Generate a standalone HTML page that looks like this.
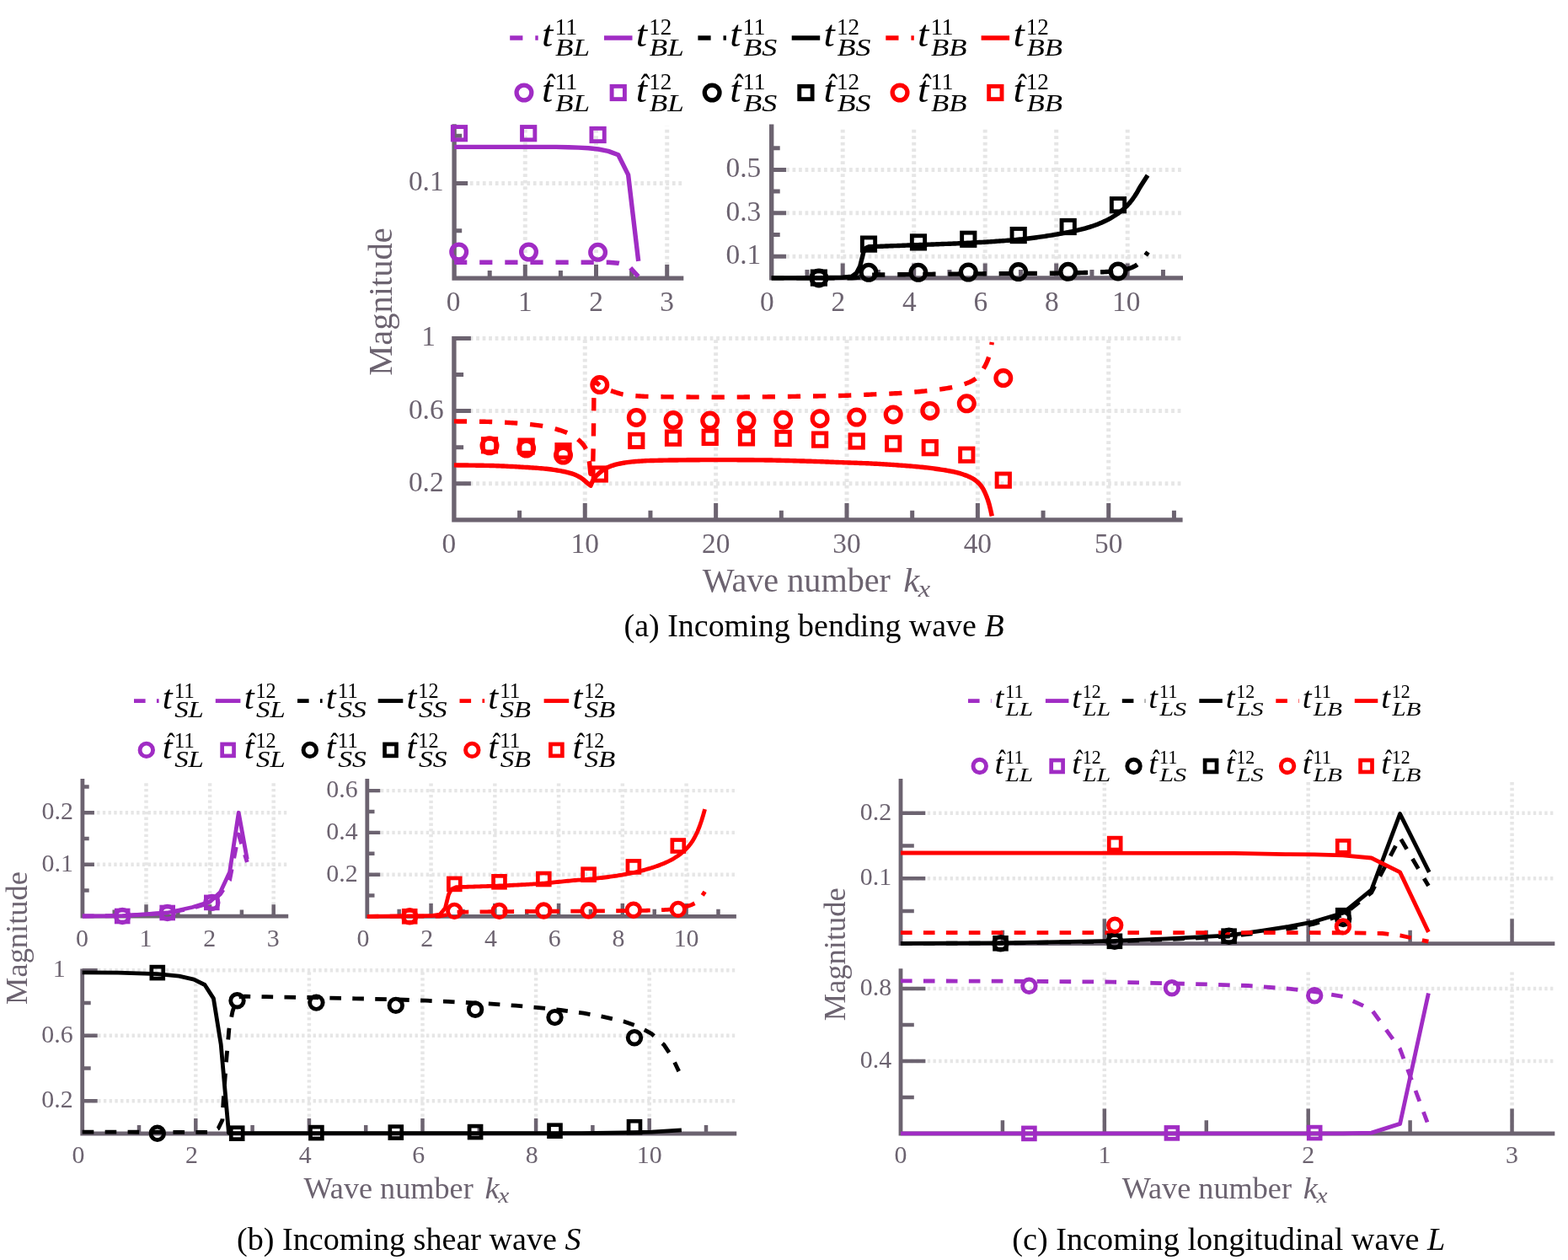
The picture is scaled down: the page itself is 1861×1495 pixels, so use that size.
<!DOCTYPE html>
<html lang="en">
<head>
<meta charset="utf-8">
<title>Transmission coefficient magnitudes</title>
<style>
html,body{margin:0;padding:0;background:#ffffff;}
body{width:1861px;height:1495px;overflow:hidden;}
svg{display:block;}
svg text{font-family:"Liberation Serif",serif;}
</style>
</head>
<body>
<svg width="1861" height="1495" viewBox="0 0 1861 1495">
<rect x="0" y="0" width="1861" height="1495" fill="#ffffff"/>
<path d="M623.3 330.1V149.8M707.5 330.1V149.8M791.7 330.1V149.8M809.1 217.5H539.1" stroke="#e6e6e6" stroke-width="5" stroke-dasharray="3.75 3.75" fill="none"/>
<path d="M539.1 147.3V330.1H811.3" stroke="#6c6370" stroke-width="5.35" fill="none" stroke-linejoin="miter"/>
<path d="M623.3 330.1v-16.1M707.5 330.1v-16.1M791.7 330.1v-16.1M581.2 330.1v-9.1M665.4 330.1v-9.1M749.6 330.1v-9.1M539.1 217.5h16.1M539.1 273.8h9.1M539.1 161.2h9.1" stroke="#6c6370" stroke-width="5" fill="none" stroke-linejoin="miter"/>
<path d="M1000.2 329.9V150.1M1084.7 329.9V150.1M1169.2 329.9V150.1M1253.7 329.9V150.1M1338.2 329.9V150.1M1401.8 304.2H915.7M1401.8 252.8H915.7M1401.8 201.4H915.7" stroke="#e6e6e6" stroke-width="5" stroke-dasharray="3.75 3.75" fill="none"/>
<path d="M915.7 147.6V329.9H1404" stroke="#6c6370" stroke-width="5.35" fill="none" stroke-linejoin="miter"/>
<path d="M1000.2 329.9v-17.3M1084.7 329.9v-17.3M1169.2 329.9v-17.3M1253.7 329.9v-17.3M1338.2 329.9v-17.3M957.95 329.9v-10M1042.45 329.9v-10M1126.95 329.9v-10M1211.45 329.9v-10M1295.95 329.9v-10M1380.45 329.9v-10M915.7 304.2h17.3M915.7 252.8h17.3M915.7 201.4h17.3M915.7 278.5h10M915.7 227.1h10M915.7 175.7h10" stroke="#6c6370" stroke-width="5" fill="none" stroke-linejoin="miter"/>
<path d="M694.27 616.9V401.4M849.64 616.9V401.4M1005.01 616.9V401.4M1160.38 616.9V401.4M1315.75 616.9V401.4M1401.4 573.8H538.9M1401.4 487.6H538.9M1401.4 401.4H538.9" stroke="#e6e6e6" stroke-width="5" stroke-dasharray="3.75 3.75" fill="none"/>
<path d="M538.9 398.9V616.9H1403.6" stroke="#6c6370" stroke-width="5.35" fill="none" stroke-linejoin="miter"/>
<path d="M694.27 616.9v-20M849.64 616.9v-20M1005.01 616.9v-20M1160.38 616.9v-20M1315.75 616.9v-20M616.59 616.9v-11.2M771.95 616.9v-11.2M927.33 616.9v-11.2M1082.7 616.9v-11.2M1238.07 616.9v-11.2M1393.43 616.9v-11.2M538.9 573.8h20M538.9 487.6h20M538.9 401.4h20M538.9 530.7h11.2M538.9 444.5h11.2" stroke="#6c6370" stroke-width="5" fill="none" stroke-linejoin="miter"/>
<path d="M173.5 1087.2V926.24M249.1 1087.2V926.24M324.7 1087.2V926.24M340.23 1025.7H97.9M340.23 964.2H97.9" stroke="#e6e6e6" stroke-width="4.47" stroke-dasharray="3.36 3.36" fill="none"/>
<path d="M97.9 924V1087.2H342.2" stroke="#6c6370" stroke-width="4.79" fill="none" stroke-linejoin="miter"/>
<path d="M173.5 1087.2v-14M249.1 1087.2v-14M324.7 1087.2v-14M135.7 1087.2v-7.8M211.3 1087.2v-7.8M286.9 1087.2v-7.8M97.9 1025.7h14M97.9 964.2h14M97.9 1056.45h7.8M97.9 994.95h7.8M97.9 933.45h7.8" stroke="#6c6370" stroke-width="4.47" fill="none" stroke-linejoin="miter"/>
<path d="M511.56 1087.4V926.24M587.32 1087.4V926.24M663.08 1087.4V926.24M738.84 1087.4V926.24M814.6 1087.4V926.24M871.93 1037.64H435.8M871.93 987.88H435.8M871.93 938.12H435.8" stroke="#e6e6e6" stroke-width="4.47" stroke-dasharray="3.36 3.36" fill="none"/>
<path d="M435.8 924V1087.4H873.9" stroke="#6c6370" stroke-width="4.79" fill="none" stroke-linejoin="miter"/>
<path d="M511.56 1087.4v-15.5M587.32 1087.4v-15.5M663.08 1087.4v-15.5M738.84 1087.4v-15.5M814.6 1087.4v-15.5M473.68 1087.4v-8.7M549.44 1087.4v-8.7M625.2 1087.4v-8.7M700.96 1087.4v-8.7M776.72 1087.4v-8.7M852.48 1087.4v-8.7M435.8 1037.64h15.5M435.8 987.88h15.5M435.8 938.12h15.5M435.8 1062.52h8.7M435.8 1012.76h8.7M435.8 963h8.7" stroke="#6c6370" stroke-width="4.47" fill="none" stroke-linejoin="miter"/>
<path d="M232.3 1345V1151.64M366.9 1345V1151.64M501.5 1345V1151.64M636.1 1345V1151.64M770.7 1345V1151.64M872.23 1306.26H97.7M872.23 1228.78H97.7M872.23 1151.3H97.7" stroke="#e6e6e6" stroke-width="4.47" stroke-dasharray="3.36 3.36" fill="none"/>
<path d="M97.7 1149.4V1345H874.2" stroke="#6c6370" stroke-width="4.79" fill="none" stroke-linejoin="miter"/>
<path d="M232.3 1345v-18M366.9 1345v-18M501.5 1345v-18M636.1 1345v-18M770.7 1345v-18M165 1345v-10M299.6 1345v-10M434.2 1345v-10M568.8 1345v-10M703.4 1345v-10M838 1345v-10M97.7 1306.26h18M97.7 1228.78h18M97.7 1151.3h18M97.7 1267.52h10M97.7 1190.04h10" stroke="#6c6370" stroke-width="4.47" fill="none" stroke-linejoin="miter"/>
<path d="M1310.85 1119.6V926.34M1552.7 1119.6V926.34M1794.55 1119.6V926.34M1843.33 1042.2H1069M1843.33 964.8H1069" stroke="#e6e6e6" stroke-width="4.47" stroke-dasharray="3.36 3.36" fill="none"/>
<path d="M1069 924.1V1119.6H1845.3" stroke="#6c6370" stroke-width="4.79" fill="none" stroke-linejoin="miter"/>
<path d="M1310.85 1119.6v-29.3M1552.7 1119.6v-29.3M1794.55 1119.6v-29.3M1189.92 1119.6v-15.8M1431.78 1119.6v-15.8M1673.62 1119.6v-15.8M1069 1042.2h29.3M1069 964.8h29.3M1069 1080.9h15.8M1069 1003.5h15.8" stroke="#6c6370" stroke-width="4.47" fill="none" stroke-linejoin="miter"/>
<path d="M1310.85 1345V1151.54M1552.7 1345V1151.54M1794.55 1345V1151.54M1843.33 1259H1069M1843.33 1173H1069" stroke="#e6e6e6" stroke-width="4.47" stroke-dasharray="3.36 3.36" fill="none"/>
<path d="M1069 1149.3V1345H1845.3" stroke="#6c6370" stroke-width="4.79" fill="none" stroke-linejoin="miter"/>
<path d="M1310.85 1345v-29.4M1552.7 1345v-29.4M1794.55 1345v-29.4M1189.92 1345v-15.8M1431.78 1345v-15.8M1673.62 1345v-15.8M1069 1259h29.4M1069 1173h29.4M1069 1302h15.8M1069 1216h15.8" stroke="#6c6370" stroke-width="4.47" fill="none" stroke-linejoin="miter"/>
<path d="M539.1 311.2L710.2 311.2L722 311.3L733.8 312.2L745.6 315L757.6 328" stroke="#a02cc4" stroke-width="5.4" fill="none" stroke-linejoin="round" stroke-dasharray="15.2 14.9"/>
<path d="M539.1 174.4L660 174.4L674.8 174.7L686.6 175.1L698.4 175.8L710.2 177L722 179.4L733.8 183.8L745.6 207.4L757.7 309.9" stroke="#a02cc4" stroke-width="5.4" fill="none" stroke-linejoin="round"/>
<circle cx="544.7" cy="299" r="8.85" stroke="#a02cc4" stroke-width="5.3" fill="none"/>
<circle cx="627.5" cy="299" r="8.85" stroke="#a02cc4" stroke-width="5.3" fill="none"/>
<circle cx="709.6" cy="299.3" r="8.85" stroke="#a02cc4" stroke-width="5.3" fill="none"/>
<rect x="537.35" y="150.55" width="15.3" height="15.3" stroke="#a02cc4" stroke-width="4.9" fill="none"/>
<rect x="619.55" y="150.55" width="15.3" height="15.3" stroke="#a02cc4" stroke-width="4.9" fill="none"/>
<rect x="701.95" y="152.35" width="15.3" height="15.3" stroke="#a02cc4" stroke-width="4.9" fill="none"/>
<path d="M915.7 329.9L1011 329.9L1020 329L1027 326.6L1031 326.2L1033.03 326.18L1035.06 326.15L1037.09 326.13L1039.12 326.1L1041.15 326.08L1043.18 326.06L1045.21 326.03L1047.24 326.01L1049.26 325.98L1051.29 325.96L1053.32 325.93L1055.35 325.91L1057.38 325.88L1059.41 325.86L1061.44 325.83L1063.47 325.81L1065.5 325.78L1067.53 325.76L1069.56 325.74L1071.59 325.71L1073.62 325.69L1075.65 325.66L1077.68 325.64L1079.71 325.62L1081.74 325.59L1083.76 325.57L1085.79 325.55L1087.82 325.53L1089.85 325.5L1091.88 325.48L1093.91 325.46L1095.94 325.44L1097.97 325.42L1100 325.4L1102 325.38L1104 325.36L1106 325.34L1108 325.32L1110 325.3L1112 325.29L1114 325.27L1116 325.25L1118 325.23L1120 325.21L1122 325.2L1124 325.18L1126 325.16L1128 325.14L1130 325.13L1132 325.11L1134 325.09L1136 325.08L1138 325.06L1140 325.04L1142 325.03L1144 325.01L1146 325L1148 324.98L1150 324.96L1152 324.95L1154 324.93L1156 324.92L1158 324.9L1160 324.88L1162 324.87L1164 324.85L1166 324.84L1168 324.82L1170 324.81L1172 324.79L1174 324.77L1176 324.76L1178 324.74L1180 324.73L1182 324.71L1184 324.69L1186 324.68L1188 324.66L1190 324.65L1192 324.63L1194 324.62L1196 324.6L1198 324.58L1200 324.57L1202 324.55L1204 324.53L1206 324.52L1208 324.5L1209.97 324.48L1211.93 324.47L1213.9 324.45L1215.87 324.44L1217.83 324.42L1219.8 324.41L1221.77 324.4L1223.73 324.38L1225.7 324.37L1227.67 324.36L1229.63 324.34L1231.6 324.33L1233.57 324.32L1235.53 324.3L1237.5 324.29L1239.47 324.28L1241.43 324.26L1243.4 324.25L1245.37 324.23L1247.33 324.21L1249.3 324.2L1251.27 324.18L1253.23 324.16L1255.2 324.14L1257.17 324.12L1259.13 324.1L1261.1 324.08L1263.07 324.05L1265.03 324.03L1267 324L1269 323.97L1271 323.94L1273 323.9L1275 323.86L1277 323.82L1279 323.77L1281 323.72L1283 323.67L1285 323.61L1287 323.55L1289 323.49L1291 323.42L1293 323.35L1295 323.28L1297 323.2L1299 323.13L1301 323.04L1303 322.96L1305 322.87L1307 322.79L1309 322.69L1311 322.6L1313 322.5L1315 322.39L1317 322.27L1319 322.13L1321 321.98L1323 321.8L1325 321.61L1327 321.4L1328.83 321.16L1330.67 320.87L1332.5 320.52L1334.33 320.12L1336.17 319.68L1338 319.2L1339.92 318.63L1341.83 317.97L1343.75 317.2L1345.67 316.32L1347.58 315.32L1349.5 314.2L1351.67 312.54L1353.83 310.4L1356 308L1358.17 305.25L1360.33 302.12L1362.5 299" stroke="#000000" stroke-width="5.4" fill="none" stroke-linejoin="round" stroke-dasharray="15.2 14.9" stroke-dashoffset="0.5"/>
<path d="M915.7 329.9L971.9 329.8L1000 329.3L1011 328.2L1016.6 324L1020.8 315.6L1025 298.7L1027.8 294.2L1031.3 292.8L1033.31 292.72L1035.32 292.65L1037.33 292.57L1039.34 292.5L1041.35 292.42L1043.36 292.35L1045.37 292.27L1047.38 292.2L1049.39 292.12L1051.4 292.05L1053.41 291.97L1055.42 291.9L1057.43 291.82L1059.44 291.74L1061.46 291.67L1063.47 291.59L1065.48 291.52L1067.49 291.44L1069.5 291.37L1071.51 291.29L1073.52 291.22L1075.53 291.14L1077.54 291.06L1079.55 290.99L1081.56 290.91L1083.57 290.83L1085.58 290.76L1087.59 290.68L1089.6 290.6L1091.61 290.52L1093.63 290.45L1095.64 290.37L1097.65 290.3L1099.67 290.22L1101.68 290.15L1103.69 290.08L1105.71 290L1107.72 289.93L1109.73 289.86L1111.75 289.78L1113.76 289.71L1115.77 289.64L1117.79 289.56L1119.8 289.49L1121.81 289.41L1123.83 289.34L1125.84 289.26L1127.85 289.18L1129.87 289.1L1131.88 289.02L1133.89 288.93L1135.91 288.85L1137.92 288.76L1139.93 288.68L1141.95 288.58L1143.96 288.49L1145.97 288.4L1147.99 288.3L1150 288.2L1152.02 288.1L1154.05 287.99L1156.07 287.89L1158.1 287.78L1160.12 287.67L1162.14 287.56L1164.17 287.44L1166.19 287.33L1168.22 287.21L1170.24 287.09L1172.27 286.97L1174.29 286.84L1176.31 286.71L1178.34 286.58L1180.36 286.44L1182.39 286.31L1184.41 286.17L1186.43 286.02L1188.46 285.88L1190.48 285.73L1192.51 285.57L1194.53 285.41L1196.56 285.25L1198.58 285.09L1200.6 284.92L1202.63 284.74L1204.65 284.57L1206.68 284.39L1208.7 284.2L1210.67 284.01L1212.63 283.82L1214.6 283.61L1216.57 283.4L1218.53 283.18L1220.5 282.96L1222.47 282.72L1224.43 282.48L1226.4 282.23L1228.37 281.98L1230.33 281.71L1232.3 281.44L1234.27 281.17L1236.23 280.88L1238.2 280.59L1240.17 280.3L1242.13 280L1244.1 279.69L1246.07 279.38L1248.03 279.06L1250 278.73L1251.97 278.41L1253.93 278.07L1255.9 277.73L1257.87 277.39L1259.83 277.04L1261.8 276.69L1263.77 276.33L1265.73 275.97L1267.7 275.6L1269.77 275.2L1271.85 274.79L1273.92 274.36L1275.99 273.91L1278.06 273.44L1280.14 272.95L1282.21 272.44L1284.28 271.91L1286.35 271.36L1288.43 270.79L1290.5 270.2L1292.6 269.57L1294.7 268.91L1296.8 268.21L1298.9 267.47L1301 266.7L1303.1 265.9L1305.2 265.05L1307.3 264.17L1309.4 263.25L1311.5 262.3L1313.44 261.37L1315.38 260.38L1317.31 259.33L1319.25 258.22L1321.19 257.05L1323.12 255.83L1325.06 254.54L1327 253.2L1328.87 251.83L1330.73 250.37L1332.6 248.81L1334.47 247.15L1336.33 245.38L1338.2 243.5L1340.33 241.17L1342.45 238.59L1344.58 235.79L1346.7 232.8L1348.45 230.06L1350.2 227.04L1351.95 223.95L1353.7 221L1355.8 217.69L1357.9 214.47L1360 211.3L1362.1 208.1" stroke="#000000" stroke-width="5.4" fill="none" stroke-linejoin="round"/>
<circle cx="971.9" cy="329.9" r="8.85" stroke="#000000" stroke-width="5.3" fill="none"/>
<circle cx="1031" cy="323.3" r="8.85" stroke="#000000" stroke-width="5.3" fill="none"/>
<circle cx="1089.9" cy="323.3" r="8.85" stroke="#000000" stroke-width="5.3" fill="none"/>
<circle cx="1149.3" cy="323" r="8.85" stroke="#000000" stroke-width="5.3" fill="none"/>
<circle cx="1208.7" cy="322.6" r="8.85" stroke="#000000" stroke-width="5.3" fill="none"/>
<circle cx="1267.7" cy="322.3" r="8.85" stroke="#000000" stroke-width="5.3" fill="none"/>
<circle cx="1327" cy="321.9" r="8.85" stroke="#000000" stroke-width="5.3" fill="none"/>
<rect x="964.25" y="321.95" width="15.3" height="15.3" stroke="#000000" stroke-width="4.9" fill="none"/>
<rect x="1023.35" y="281.95" width="15.3" height="15.3" stroke="#000000" stroke-width="4.9" fill="none"/>
<rect x="1082.35" y="279.75" width="15.3" height="15.3" stroke="#000000" stroke-width="4.9" fill="none"/>
<rect x="1141.65" y="276.15" width="15.3" height="15.3" stroke="#000000" stroke-width="4.9" fill="none"/>
<rect x="1201.05" y="271.45" width="15.3" height="15.3" stroke="#000000" stroke-width="4.9" fill="none"/>
<rect x="1260.05" y="261.35" width="15.3" height="15.3" stroke="#000000" stroke-width="4.9" fill="none"/>
<rect x="1319.35" y="235.55" width="15.3" height="15.3" stroke="#000000" stroke-width="4.9" fill="none"/>
<path d="M538.9 499.9L540.92 499.92L542.95 499.95L544.98 499.97L547 499.99L549.02 500.01L551.05 500.03L553.07 500.05L555.1 500.07L557.12 500.09L559.15 500.11L561.17 500.13L563.2 500.15L565.23 500.18L567.25 500.2L569.27 500.23L571.3 500.26L573.32 500.29L575.35 500.32L577.38 500.36L579.4 500.4L581.45 500.45L583.5 500.5L585.55 500.56L587.6 500.64L589.65 500.72L591.7 500.8L593.75 500.9L595.8 501L597.85 501.11L599.9 501.22L601.95 501.34L604 501.47L606.05 501.6L608.1 501.73L610.15 501.87L612.2 502.01L614.25 502.15L616.3 502.3L618.28 502.45L620.25 502.61L622.23 502.78L624.21 502.97L626.18 503.17L628.16 503.38L630.14 503.6L632.12 503.84L634.09 504.09L636.07 504.35L638.05 504.62L640.02 504.9L642 505.2L644.04 505.53L646.07 505.89L648.11 506.27L650.15 506.69L652.18 507.14L654.22 507.61L656.25 508.12L658.29 508.65L660.33 509.2L662.36 509.79L664.4 510.4L666.41 511.04L668.42 511.74L670.44 512.49L672.45 513.31L674.46 514.2L676.48 515.15L678.49 516.19L680.5 517.3L682.5 518.57L684.5 520.07L686.5 521.76L688.5 523.6L690.33 525.38L692.17 527.41L694 530L695.75 533.48L697.5 538.5L699.6 549L700.9 562.2L703.8 548L704.4 520L704.9 470L705.3 451L707.12 452.79L708.94 454.68L710.76 456.52L712.58 458.15L714.4 459.4L716.31 460.39L718.23 461.24L720.14 462L722.06 462.67L723.97 463.3L725.89 463.9L727.8 464.5L729.67 465.11L731.55 465.73L733.42 466.35L735.3 466.94L737.17 467.48L739.05 467.95L740.92 468.33L742.8 468.6L744.85 468.82L746.91 469.04L748.96 469.23L751.01 469.42L753.07 469.59L755.12 469.74L757.17 469.89L759.23 470.02L761.28 470.14L763.33 470.24L765.39 470.34L767.44 470.42L769.49 470.49L771.55 470.55L773.6 470.6L775.62 470.64L777.65 470.68L779.68 470.71L781.7 470.75L783.73 470.78L785.75 470.81L787.77 470.83L789.8 470.86L791.83 470.88L793.85 470.9L795.88 470.92L797.9 470.94L799.92 470.96L801.95 470.97L803.98 470.99L806 471L808 471.01L810 471.02L812 471.04L814 471.05L816 471.06L818 471.07L820 471.08L822 471.09L824 471.11L826 471.12L828 471.13L830 471.13L832 471.14L834 471.15L836 471.16L838 471.17L840 471.17L842 471.18L844 471.18L846 471.19L848 471.19L850 471.2L852 471.2L854 471.2L856 471.2L858 471.2L860 471.2L862 471.19L864 471.19L866 471.18L868 471.17L870 471.16L872 471.15L874 471.14L876 471.13L878 471.12L880 471.1L882 471.09L884 471.07L886 471.06L888 471.04L890 471.02L892 471.01L894 470.99L896 470.97L898 470.95L900 470.94L902 470.92L904 470.9L906 470.88L908 470.86L910 470.84L912 470.82L914 470.79L916 470.77L918 470.74L920 470.71L922 470.68L924 470.65L926 470.62L928 470.59L930 470.56L932 470.53L934 470.49L936 470.46L938 470.43L940 470.39L942 470.36L944 470.33L946 470.3L948 470.26L950 470.23L952 470.2L954 470.17L956 470.14L958 470.11L960 470.08L962 470.05L964 470.02L966 470L968 469.97L970 469.94L972 469.91L974 469.88L976 469.85L978 469.82L980 469.79L982 469.76L984 469.72L986 469.69L988 469.65L990 469.62L992 469.58L994 469.54L996 469.49L998 469.45L1000 469.4L1002.03 469.35L1004.06 469.29L1006.09 469.22L1008.12 469.15L1010.15 469.07L1012.18 468.99L1014.21 468.91L1016.24 468.82L1018.26 468.73L1020.29 468.64L1022.32 468.55L1024.35 468.45L1026.38 468.36L1028.41 468.27L1030.44 468.18L1032.47 468.09L1034.5 468L1036.48 467.92L1038.46 467.84L1040.44 467.76L1042.42 467.68L1044.4 467.6L1046.38 467.52L1048.36 467.44L1050.34 467.36L1052.32 467.28L1054.3 467.19L1056.28 467.1L1058.26 467.01L1060.24 466.91L1062.22 466.81L1064.2 466.7L1066.23 466.58L1068.27 466.46L1070.3 466.33L1072.33 466.19L1074.37 466.04L1076.4 465.89L1078.43 465.73L1080.47 465.57L1082.5 465.4L1084.53 465.23L1086.57 465.05L1088.6 464.87L1090.63 464.69L1092.67 464.49L1094.7 464.3L1096.68 464.11L1098.66 463.91L1100.64 463.71L1102.62 463.5L1104.6 463.28L1106.58 463.06L1108.56 462.83L1110.54 462.59L1112.52 462.34L1114.5 462.08L1116.48 461.81L1118.46 461.53L1120.44 461.23L1122.42 460.92L1124.4 460.6L1126.4 460.25L1128.4 459.88L1130.4 459.49L1132.4 459.06L1134.4 458.61L1136.4 458.12L1138.4 457.6L1140.4 457.04L1142.4 456.44L1144.4 455.8L1146.47 455.09L1148.54 454.31L1150.61 453.44L1152.69 452.46L1154.76 451.34L1156.83 450.06L1158.9 448.6L1160.9 446.71L1162.9 444.2L1164.9 441.26L1166.9 438.1L1168.77 434.95L1170.63 431.3L1172.5 426.9L1174.1 422.09L1175.7 415.7L1177.3 406" stroke="#ff0000" stroke-width="5.4" fill="none" stroke-linejoin="round" stroke-dasharray="15.2 14.9"/>
<path d="M538.9 551.9L540.92 551.92L542.95 551.95L544.98 551.97L547 551.99L549.02 552.01L551.05 552.03L553.07 552.05L555.1 552.07L557.12 552.09L559.15 552.11L561.17 552.14L563.2 552.16L565.23 552.18L567.25 552.21L569.27 552.23L571.3 552.26L573.32 552.29L575.35 552.33L577.38 552.36L579.4 552.4L581.45 552.44L583.5 552.5L585.55 552.55L587.6 552.62L589.65 552.69L591.7 552.77L593.75 552.86L595.8 552.95L597.85 553.04L599.9 553.14L601.95 553.24L604 553.34L606.05 553.45L608.1 553.56L610.15 553.67L612.2 553.78L614.25 553.89L616.3 554L618.31 554.11L620.31 554.22L622.32 554.34L624.32 554.45L626.33 554.57L628.34 554.7L630.34 554.83L632.35 554.97L634.36 555.11L636.36 555.25L638.37 555.41L640.38 555.57L642.38 555.74L644.39 555.92L646.39 556.1L648.4 556.3L650.48 556.52L652.56 556.77L654.64 557.04L656.72 557.33L658.8 557.64L660.88 557.97L662.96 558.33L665.04 558.7L667.12 559.09L669.2 559.5L671.08 559.89L672.97 560.32L674.85 560.79L676.73 561.3L678.62 561.87L680.5 562.5L682.42 563.23L684.34 564.09L686.26 565.06L688.18 566.13L690.1 567.3L692.23 568.89L694.37 570.76L696.5 572.6L698.75 574.41L701 576.2L703.5 570.4L705.5 567.31L707.5 564.9L709.42 562.94L711.34 561.18L713.26 559.59L715.18 558.17L717.1 556.9L719.23 555.63L721.37 554.53L723.5 553.6L725.64 552.81L727.78 552.09L729.92 551.45L732.06 550.89L734.2 550.4L736.21 549.99L738.23 549.61L740.24 549.25L742.25 548.92L744.26 548.62L746.27 548.35L748.29 548.11L750.3 547.9L752.27 547.72L754.24 547.55L756.21 547.39L758.18 547.23L760.15 547.09L762.12 546.97L764.09 546.85L766.06 546.75L768.03 546.67L770 546.6L772 546.54L774 546.48L776 546.43L778 546.38L780 546.33L782 546.29L784 546.25L786 546.21L788 546.17L790 546.14L792 546.1L794 546.07L796 546.04L798 546.02L800 545.99L802 545.97L804 545.94L806 545.92L808 545.9L809.98 545.88L811.96 545.86L813.94 545.84L815.92 545.82L817.9 545.8L819.89 545.78L821.87 545.76L823.85 545.74L825.83 545.72L827.81 545.7L829.79 545.69L831.77 545.67L833.75 545.66L835.73 545.65L837.71 545.63L839.7 545.62L841.68 545.62L843.66 545.61L845.64 545.6L847.62 545.6L849.6 545.6L851.61 545.6L853.63 545.6L855.64 545.6L857.66 545.61L859.67 545.61L861.69 545.62L863.7 545.63L865.72 545.63L867.73 545.64L869.75 545.65L871.76 545.66L873.78 545.67L875.79 545.68L877.81 545.69L879.82 545.71L881.84 545.72L883.85 545.74L885.87 545.75L887.88 545.76L889.9 545.78L891.91 545.8L893.93 545.81L895.94 545.83L897.96 545.85L899.97 545.86L901.99 545.88L904 545.9L906 545.92L908 545.94L910 545.97L912 546L914 546.03L916 546.07L918 546.11L920 546.15L922 546.19L924 546.24L926 546.29L928 546.34L930 546.39L932 546.44L934 546.49L936 546.55L938 546.6L940 546.66L942 546.72L944 546.77L946 546.83L948 546.89L950 546.94L952 547L954.04 547.06L956.08 547.12L958.12 547.18L960.15 547.25L962.19 547.31L964.23 547.38L966.27 547.45L968.31 547.52L970.35 547.59L972.38 547.67L974.42 547.74L976.46 547.82L978.5 547.89L980.54 547.97L982.58 548.05L984.62 548.13L986.65 548.2L988.69 548.28L990.73 548.36L992.77 548.44L994.81 548.52L996.85 548.6L998.88 548.67L1000.92 548.75L1002.96 548.83L1005 548.9L1006.94 548.97L1008.87 549.04L1010.81 549.1L1012.74 549.17L1014.68 549.24L1016.61 549.3L1018.55 549.37L1020.49 549.44L1022.42 549.51L1024.36 549.58L1026.29 549.66L1028.23 549.73L1030.16 549.81L1032.1 549.9L1034.11 549.99L1036.11 550.09L1038.12 550.19L1040.12 550.3L1042.13 550.41L1044.14 550.52L1046.14 550.63L1048.15 550.75L1050.16 550.87L1052.16 551L1054.17 551.13L1056.17 551.26L1058.18 551.39L1060.19 551.52L1062.19 551.66L1064.2 551.8L1066.21 551.94L1068.21 552.08L1070.22 552.23L1072.22 552.38L1074.23 552.53L1076.24 552.69L1078.24 552.85L1080.25 553.01L1082.26 553.18L1084.26 553.35L1086.27 553.53L1088.28 553.71L1090.28 553.9L1092.29 554.09L1094.29 554.29L1096.3 554.5L1098.31 554.71L1100.32 554.94L1102.33 555.17L1104.33 555.41L1106.34 555.66L1108.35 555.93L1110.36 556.2L1112.37 556.48L1114.38 556.77L1116.38 557.07L1118.39 557.38L1120.4 557.7L1122.4 558.03L1124.4 558.38L1126.4 558.74L1128.4 559.12L1130.4 559.52L1132.4 559.95L1134.4 560.41L1136.4 560.9L1138.28 561.4L1140.17 561.95L1142.05 562.55L1143.93 563.19L1145.82 563.87L1147.7 564.6L1149.7 565.42L1151.7 566.33L1153.7 567.34L1155.7 568.5L1157.83 569.97L1159.97 571.74L1162.1 573.8L1164.5 576.62L1166.9 580.2L1168.9 584.16L1170.9 589L1172.5 593.41L1174.1 598.6L1175.7 605.15L1177.3 612.3" stroke="#ff0000" stroke-width="5.4" fill="none" stroke-linejoin="round"/>
<circle cx="581" cy="528.8" r="8.85" stroke="#ff0000" stroke-width="5.3" fill="none"/>
<circle cx="624.6" cy="532" r="8.85" stroke="#ff0000" stroke-width="5.3" fill="none"/>
<circle cx="668.5" cy="540.1" r="8.85" stroke="#ff0000" stroke-width="5.3" fill="none"/>
<circle cx="711.8" cy="456.6" r="8.85" stroke="#ff0000" stroke-width="5.3" fill="none"/>
<circle cx="755.3" cy="495.4" r="8.85" stroke="#ff0000" stroke-width="5.3" fill="none"/>
<circle cx="799" cy="498.6" r="8.85" stroke="#ff0000" stroke-width="5.3" fill="none"/>
<circle cx="842.7" cy="499.1" r="8.85" stroke="#ff0000" stroke-width="5.3" fill="none"/>
<circle cx="886" cy="499.1" r="8.85" stroke="#ff0000" stroke-width="5.3" fill="none"/>
<circle cx="929.6" cy="498.3" r="8.85" stroke="#ff0000" stroke-width="5.3" fill="none"/>
<circle cx="973.1" cy="496.7" r="8.85" stroke="#ff0000" stroke-width="5.3" fill="none"/>
<circle cx="1016.7" cy="495" r="8.85" stroke="#ff0000" stroke-width="5.3" fill="none"/>
<circle cx="1060.2" cy="491.9" r="8.85" stroke="#ff0000" stroke-width="5.3" fill="none"/>
<circle cx="1103.8" cy="487.4" r="8.85" stroke="#ff0000" stroke-width="5.3" fill="none"/>
<circle cx="1147.3" cy="478.8" r="8.85" stroke="#ff0000" stroke-width="5.3" fill="none"/>
<circle cx="1190.8" cy="448.6" r="8.85" stroke="#ff0000" stroke-width="5.3" fill="none"/>
<rect x="573.35" y="520.65" width="15.3" height="15.3" stroke="#ff0000" stroke-width="4.9" fill="none"/>
<rect x="616.95" y="521.95" width="15.3" height="15.3" stroke="#ff0000" stroke-width="4.9" fill="none"/>
<rect x="660.85" y="527.55" width="15.3" height="15.3" stroke="#ff0000" stroke-width="4.9" fill="none"/>
<rect x="704.15" y="554.85" width="15.3" height="15.3" stroke="#ff0000" stroke-width="4.9" fill="none"/>
<rect x="747.65" y="515.25" width="15.3" height="15.3" stroke="#ff0000" stroke-width="4.9" fill="none"/>
<rect x="791.35" y="512.05" width="15.3" height="15.3" stroke="#ff0000" stroke-width="4.9" fill="none"/>
<rect x="835.05" y="511.25" width="15.3" height="15.3" stroke="#ff0000" stroke-width="4.9" fill="none"/>
<rect x="878.35" y="511.75" width="15.3" height="15.3" stroke="#ff0000" stroke-width="4.9" fill="none"/>
<rect x="921.95" y="512.35" width="15.3" height="15.3" stroke="#ff0000" stroke-width="4.9" fill="none"/>
<rect x="965.45" y="513.95" width="15.3" height="15.3" stroke="#ff0000" stroke-width="4.9" fill="none"/>
<rect x="1009.05" y="515.85" width="15.3" height="15.3" stroke="#ff0000" stroke-width="4.9" fill="none"/>
<rect x="1052.55" y="518.75" width="15.3" height="15.3" stroke="#ff0000" stroke-width="4.9" fill="none"/>
<rect x="1096.15" y="523.55" width="15.3" height="15.3" stroke="#ff0000" stroke-width="4.9" fill="none"/>
<rect x="1139.65" y="532.05" width="15.3" height="15.3" stroke="#ff0000" stroke-width="4.9" fill="none"/>
<rect x="1183.15" y="562.05" width="15.3" height="15.3" stroke="#ff0000" stroke-width="4.9" fill="none"/>
<path d="M97.9 1087L145.2 1086.6L198.5 1083.3L228.1 1077.4L249 1071.6L261.5 1061L272.6 1044.3L283.2 990L293.3 1023" stroke="#a02cc4" stroke-width="4.83" fill="none" stroke-linejoin="round" stroke-dasharray="13.6 13.34"/>
<path d="M97.9 1087L145.2 1086.6L198.5 1083L228.1 1076.5L249 1070.1L261.5 1058.5L272.6 1034.8L283.2 964.3L293.3 1019.5" stroke="#a02cc4" stroke-width="4.83" fill="none" stroke-linejoin="round"/>
<circle cx="145.2" cy="1087" r="7.75" stroke="#a02cc4" stroke-width="4.9" fill="none"/>
<circle cx="198.7" cy="1083" r="7.75" stroke="#a02cc4" stroke-width="4.9" fill="none"/>
<circle cx="251.3" cy="1070.9" r="7.75" stroke="#a02cc4" stroke-width="4.9" fill="none"/>
<rect x="138.25" y="1080.05" width="13.9" height="13.9" stroke="#a02cc4" stroke-width="4.7" fill="none"/>
<rect x="191.75" y="1076.05" width="13.9" height="13.9" stroke="#a02cc4" stroke-width="4.7" fill="none"/>
<rect x="244.35" y="1063.95" width="13.9" height="13.9" stroke="#a02cc4" stroke-width="4.7" fill="none"/>
<path d="M435.8 1087.3L522 1087L530 1085.5L535 1082.6L541 1082.2L542.97 1082.18L544.93 1082.16L546.9 1082.14L548.87 1082.12L550.83 1082.1L552.8 1082.08L554.77 1082.05L556.73 1082.03L558.7 1082.01L560.67 1081.99L562.63 1081.97L564.6 1081.95L566.57 1081.92L568.53 1081.9L570.5 1081.88L572.47 1081.86L574.43 1081.84L576.4 1081.82L578.37 1081.8L580.33 1081.78L582.3 1081.76L584.27 1081.74L586.23 1081.72L588.2 1081.7L590.17 1081.68L592.13 1081.67L594.1 1081.65L596.07 1081.63L598.03 1081.62L600 1081.6L602 1081.58L604 1081.57L606 1081.56L608 1081.54L610 1081.53L612 1081.51L614 1081.5L616 1081.49L618 1081.48L620 1081.46L622 1081.45L624 1081.44L626 1081.43L628 1081.42L630 1081.41L632 1081.39L634 1081.38L636 1081.37L638 1081.36L640 1081.35L642 1081.34L644 1081.33L646 1081.32L648 1081.31L650 1081.3L652 1081.29L654 1081.28L656 1081.27L658 1081.26L660 1081.25L662 1081.24L664 1081.23L666 1081.22L668 1081.2L670 1081.19L672 1081.18L674 1081.17L676 1081.16L678 1081.15L680 1081.14L682 1081.12L684 1081.11L686 1081.1L688 1081.09L690 1081.07L692 1081.06L694 1081.04L696 1081.03L698 1081.02L700 1081L702 1080.98L704 1080.97L706 1080.95L708 1080.94L710 1080.93L712 1080.91L714 1080.9L716 1080.88L718 1080.87L720 1080.85L722 1080.83L724 1080.82L726 1080.8L728 1080.79L730 1080.77L732 1080.75L734 1080.73L736 1080.71L738 1080.69L740 1080.67L742 1080.65L744 1080.62L746 1080.6L748 1080.58L750 1080.55L752 1080.52L754 1080.49L756 1080.46L758 1080.43L760 1080.4L762 1080.37L764 1080.33L766 1080.29L768 1080.25L770 1080.2L772 1080.15L774 1080.09L776 1080.03L778 1079.97L780 1079.9L782 1079.82L784 1079.74L786 1079.65L788 1079.55L790 1079.45L792 1079.33L794 1079.21L796 1079.09L798 1078.95L800 1078.8L802.01 1078.59L804.03 1078.26L806.04 1077.85L808.06 1077.36L810.07 1076.83L812.09 1076.27L814.1 1075.7L816.2 1075.09L818.3 1074.42L820.4 1073.66L822.5 1072.76L824.6 1071.7L826.73 1070.22L828.87 1068.26L831 1066L832.87 1063.6L834.73 1060.8L836.6 1058" stroke="#ff0000" stroke-width="4.83" fill="none" stroke-linejoin="round" stroke-dasharray="13.6 13.34"/>
<path d="M435.8 1087.3L512.3 1086.6L522 1085.2L528.4 1077.5L532.4 1061.5L535.6 1055.1L541.2 1052.7L543.18 1052.64L545.15 1052.57L547.13 1052.51L549.11 1052.45L551.08 1052.39L553.06 1052.32L555.04 1052.26L557.02 1052.2L558.99 1052.14L560.97 1052.08L562.95 1052.02L564.92 1051.96L566.9 1051.9L568.88 1051.84L570.85 1051.78L572.83 1051.71L574.81 1051.65L576.78 1051.58L578.76 1051.52L580.74 1051.45L582.72 1051.38L584.69 1051.31L586.67 1051.23L588.65 1051.16L590.62 1051.08L592.6 1051L594.63 1050.92L596.67 1050.83L598.7 1050.74L600.74 1050.65L602.77 1050.56L604.81 1050.47L606.84 1050.38L608.88 1050.28L610.91 1050.18L612.95 1050.08L614.98 1049.98L617.02 1049.87L619.05 1049.76L621.08 1049.65L623.12 1049.54L625.15 1049.43L627.19 1049.31L629.22 1049.19L631.26 1049.06L633.29 1048.93L635.33 1048.8L637.36 1048.67L639.4 1048.53L641.43 1048.39L643.47 1048.25L645.5 1048.1L647.55 1047.94L649.59 1047.76L651.64 1047.57L653.68 1047.37L655.73 1047.15L657.78 1046.93L659.82 1046.7L661.87 1046.48L663.92 1046.25L665.96 1046.03L668.01 1045.81L670.05 1045.6L672.1 1045.4L674.11 1045.22L676.11 1045.04L678.12 1044.86L680.12 1044.7L682.13 1044.53L684.14 1044.37L686.14 1044.2L688.15 1044.04L690.16 1043.88L692.16 1043.71L694.17 1043.54L696.18 1043.37L698.18 1043.19L700.19 1043L702.19 1042.8L704.2 1042.6L706.21 1042.39L708.21 1042.17L710.22 1041.95L712.23 1041.72L714.23 1041.49L716.24 1041.25L718.24 1041L720.25 1040.74L722.26 1040.48L724.26 1040.21L726.27 1039.93L728.27 1039.64L730.28 1039.35L732.29 1039.04L734.29 1038.73L736.3 1038.4L738.31 1038.06L740.31 1037.71L742.32 1037.34L744.32 1036.95L746.33 1036.55L748.34 1036.14L750.34 1035.71L752.35 1035.26L754.36 1034.81L756.36 1034.33L758.37 1033.85L760.38 1033.35L762.38 1032.83L764.39 1032.3L766.39 1031.76L768.4 1031.2L770.41 1030.62L772.42 1030.02L774.42 1029.4L776.43 1028.75L778.44 1028.07L780.45 1027.36L782.46 1026.62L784.47 1025.85L786.48 1025.04L788.48 1024.2L790.49 1023.32L792.5 1022.4L794.5 1021.43L796.5 1020.39L798.5 1019.27L800.5 1018.08L802.5 1016.81L804.5 1015.45L806.5 1014.02L808.5 1012.5L810.37 1010.98L812.23 1009.34L814.1 1007.55L815.97 1005.59L817.83 1003.44L819.7 1001.1L821.73 998.18L823.75 994.77L825.77 990.93L827.8 986.7L830.2 980.75L832.6 973.8L834.6 967.19L836.6 960.2" stroke="#ff0000" stroke-width="4.83" fill="none" stroke-linejoin="round"/>
<circle cx="486.2" cy="1087.3" r="7.75" stroke="#ff0000" stroke-width="4.9" fill="none"/>
<circle cx="539.3" cy="1080.9" r="7.75" stroke="#ff0000" stroke-width="4.9" fill="none"/>
<circle cx="592.6" cy="1080.9" r="7.75" stroke="#ff0000" stroke-width="4.9" fill="none"/>
<circle cx="645.3" cy="1080.5" r="7.75" stroke="#ff0000" stroke-width="4.9" fill="none"/>
<circle cx="698.6" cy="1080.2" r="7.75" stroke="#ff0000" stroke-width="4.9" fill="none"/>
<circle cx="751.9" cy="1079.7" r="7.75" stroke="#ff0000" stroke-width="4.9" fill="none"/>
<circle cx="804.8" cy="1078.9" r="7.75" stroke="#ff0000" stroke-width="4.9" fill="none"/>
<rect x="479.25" y="1080.35" width="13.9" height="13.9" stroke="#ff0000" stroke-width="4.7" fill="none"/>
<rect x="532.35" y="1041.95" width="13.9" height="13.9" stroke="#ff0000" stroke-width="4.7" fill="none"/>
<rect x="585.55" y="1039.35" width="13.9" height="13.9" stroke="#ff0000" stroke-width="4.7" fill="none"/>
<rect x="638.35" y="1036.05" width="13.9" height="13.9" stroke="#ff0000" stroke-width="4.7" fill="none"/>
<rect x="691.65" y="1030.75" width="13.9" height="13.9" stroke="#ff0000" stroke-width="4.7" fill="none"/>
<rect x="744.95" y="1021.45" width="13.9" height="13.9" stroke="#ff0000" stroke-width="4.7" fill="none"/>
<rect x="797.85" y="996.55" width="13.9" height="13.9" stroke="#ff0000" stroke-width="4.7" fill="none"/>
<path d="M97.7 1343.1L251 1343.4L259 1339L263.9 1329L265.1 1306.5L268.6 1258.4L271.8 1221.5L275.9 1200.6L281.5 1183L291 1182.2L316 1182.7L375.4 1183.7L422 1184.8L469.8 1185.9L504.7 1187.2L532 1188.4L580 1190.9L612.2 1193.2L644.5 1196.1L665.4 1198.5L692.8 1202.1L717 1206.6L741.2 1212.2L757.3 1217.9L773.5 1226.7L788 1239.6L797.6 1254.1L805.7 1271.1" stroke="#000000" stroke-width="4.83" fill="none" stroke-linejoin="round" stroke-dasharray="13.6 13.34"/>
<path d="M97.7 1153.8L140.2 1154.1L186.8 1155.7L212.5 1158.1L230.1 1162.1L243 1168.5L253.4 1184.6L262.2 1239.1L271.5 1344.3L281 1344.7L690 1344.7L741 1344L773.5 1343.1L808.9 1340.9" stroke="#000000" stroke-width="4.83" fill="none" stroke-linejoin="round"/>
<circle cx="186.8" cy="1344.7" r="7.75" stroke="#000000" stroke-width="4.9" fill="none"/>
<circle cx="281.5" cy="1187.3" r="7.75" stroke="#000000" stroke-width="4.9" fill="none"/>
<circle cx="375.4" cy="1189.6" r="7.75" stroke="#000000" stroke-width="4.9" fill="none"/>
<circle cx="469.8" cy="1192.9" r="7.75" stroke="#000000" stroke-width="4.9" fill="none"/>
<circle cx="564.1" cy="1197.7" r="7.75" stroke="#000000" stroke-width="4.9" fill="none"/>
<circle cx="658.5" cy="1207.1" r="7.75" stroke="#000000" stroke-width="4.9" fill="none"/>
<circle cx="753" cy="1231.2" r="7.75" stroke="#000000" stroke-width="4.9" fill="none"/>
<rect x="179.85" y="1147.15" width="13.9" height="13.9" stroke="#000000" stroke-width="4.7" fill="none"/>
<rect x="274.25" y="1337.75" width="13.9" height="13.9" stroke="#000000" stroke-width="4.7" fill="none"/>
<rect x="368.45" y="1337.15" width="13.9" height="13.9" stroke="#000000" stroke-width="4.7" fill="none"/>
<rect x="462.85" y="1336.65" width="13.9" height="13.9" stroke="#000000" stroke-width="4.7" fill="none"/>
<rect x="557.15" y="1336.15" width="13.9" height="13.9" stroke="#000000" stroke-width="4.7" fill="none"/>
<rect x="651.55" y="1334.75" width="13.9" height="13.9" stroke="#000000" stroke-width="4.7" fill="none"/>
<rect x="746.05" y="1330.25" width="13.9" height="13.9" stroke="#000000" stroke-width="4.7" fill="none"/>
<path d="M1069 1119.5L1187.5 1119L1322.1 1117L1384.5 1114.7L1458.6 1111L1497.3 1106.5L1529.6 1102L1558.6 1096.5L1593.9 1085.5L1627.7 1059.1L1661.6 993.8L1695.4 1051.1" stroke="#000000" stroke-width="4.83" fill="none" stroke-linejoin="round" stroke-dasharray="13.6 13.34"/>
<path d="M1069 1119.3L1187.5 1118.8L1322.1 1116.4L1384.5 1113.9L1458.6 1109.9L1497.3 1104.3L1529.6 1099.4L1558.6 1093.8L1593.9 1083.3L1627.7 1055.9L1661.6 965.6L1696.2 1034.9" stroke="#000000" stroke-width="4.83" fill="none" stroke-linejoin="round"/>
<path d="M1069 1106.7L1560 1106.7L1600 1106.8L1640.6 1107.5L1661.6 1109.9L1695.4 1117.2" stroke="#ff0000" stroke-width="4.83" fill="none" stroke-linejoin="round" stroke-dasharray="13.6 13.34"/>
<path d="M1069 1012L1465 1012.3L1529.6 1013.7L1560 1013.9L1593.9 1014.8L1627.7 1018L1661.6 1034.9L1695.4 1105.9" stroke="#ff0000" stroke-width="4.83" fill="none" stroke-linejoin="round"/>
<circle cx="1187.5" cy="1119.3" r="7.75" stroke="#000000" stroke-width="4.9" fill="none"/>
<circle cx="1322.9" cy="1116.8" r="7.75" stroke="#000000" stroke-width="4.9" fill="none"/>
<circle cx="1458.6" cy="1110.7" r="7.75" stroke="#000000" stroke-width="4.9" fill="none"/>
<circle cx="1594.2" cy="1090" r="7.75" stroke="#000000" stroke-width="4.9" fill="none"/>
<rect x="1180.55" y="1112.35" width="13.9" height="13.9" stroke="#000000" stroke-width="4.7" fill="none"/>
<rect x="1315.95" y="1109.85" width="13.9" height="13.9" stroke="#000000" stroke-width="4.7" fill="none"/>
<rect x="1451.65" y="1103.75" width="13.9" height="13.9" stroke="#000000" stroke-width="4.7" fill="none"/>
<rect x="1587.25" y="1079.25" width="13.9" height="13.9" stroke="#000000" stroke-width="4.7" fill="none"/>
<circle cx="1323.2" cy="1097.8" r="7.75" stroke="#ff0000" stroke-width="4.9" fill="none"/>
<circle cx="1593.9" cy="1099.4" r="7.75" stroke="#ff0000" stroke-width="4.9" fill="none"/>
<rect x="1316.25" y="994.15" width="13.9" height="13.9" stroke="#ff0000" stroke-width="4.7" fill="none"/>
<rect x="1587.25" y="997.35" width="13.9" height="13.9" stroke="#ff0000" stroke-width="4.7" fill="none"/>
<path d="M1069 1163.9L1200 1164.2L1320 1165.1L1368.4 1166.3L1432.8 1167.9L1481.2 1169.5L1529.6 1173.2L1560 1176.5L1593.9 1182.4L1627.7 1197.7L1661.6 1244.5L1694 1331.5" stroke="#a02cc4" stroke-width="4.83" fill="none" stroke-linejoin="round" stroke-dasharray="13.6 13.34"/>
<path d="M1069 1344.9L1593.9 1344.9L1627.7 1344.1L1661.6 1333.4L1695.4 1178.4" stroke="#a02cc4" stroke-width="4.83" fill="none" stroke-linejoin="round"/>
<circle cx="1221.4" cy="1169.8" r="7.75" stroke="#a02cc4" stroke-width="4.9" fill="none"/>
<circle cx="1390.9" cy="1172.2" r="7.75" stroke="#a02cc4" stroke-width="4.9" fill="none"/>
<circle cx="1560.2" cy="1181.3" r="7.75" stroke="#a02cc4" stroke-width="4.9" fill="none"/>
<rect x="1214.45" y="1337.95" width="13.9" height="13.9" stroke="#a02cc4" stroke-width="4.7" fill="none"/>
<rect x="1383.95" y="1337.45" width="13.9" height="13.9" stroke="#a02cc4" stroke-width="4.7" fill="none"/>
<rect x="1553.25" y="1337.15" width="13.9" height="13.9" stroke="#a02cc4" stroke-width="4.7" fill="none"/>
<text x="538.1" y="368.8" font-size="33.4" fill="#6c6370" text-anchor="middle">0</text>
<text x="623.3" y="368.8" font-size="33.4" fill="#6c6370" text-anchor="middle">1</text>
<text x="707.5" y="368.8" font-size="33.4" fill="#6c6370" text-anchor="middle">2</text>
<text x="791.7" y="368.8" font-size="33.4" fill="#6c6370" text-anchor="middle">3</text>
<text x="505.8" y="226.4" font-size="33.4" fill="#6c6370" text-anchor="middle">0.1</text>
<text x="910.3" y="368.6" font-size="33.4" fill="#6c6370" text-anchor="middle">0</text>
<text x="994.8" y="368.6" font-size="33.4" fill="#6c6370" text-anchor="middle">2</text>
<text x="1079.3" y="368.6" font-size="33.4" fill="#6c6370" text-anchor="middle">4</text>
<text x="1163.8" y="368.6" font-size="33.4" fill="#6c6370" text-anchor="middle">6</text>
<text x="1248.3" y="368.6" font-size="33.4" fill="#6c6370" text-anchor="middle">8</text>
<text x="1336.7" y="368.6" font-size="33.4" fill="#6c6370" text-anchor="middle">10</text>
<text x="882.4" y="313.1" font-size="33.4" fill="#6c6370" text-anchor="middle">0.1</text>
<text x="882.4" y="261.7" font-size="33.4" fill="#6c6370" text-anchor="middle">0.3</text>
<text x="882.4" y="210.3" font-size="33.4" fill="#6c6370" text-anchor="middle">0.5</text>
<text x="532.9" y="655.6" font-size="33.4" fill="#6c6370" text-anchor="middle">0</text>
<text x="694.27" y="655.6" font-size="33.4" fill="#6c6370" text-anchor="middle">10</text>
<text x="849.64" y="655.6" font-size="33.4" fill="#6c6370" text-anchor="middle">20</text>
<text x="1005.01" y="655.6" font-size="33.4" fill="#6c6370" text-anchor="middle">30</text>
<text x="1160.38" y="655.6" font-size="33.4" fill="#6c6370" text-anchor="middle">40</text>
<text x="1315.75" y="655.6" font-size="33.4" fill="#6c6370" text-anchor="middle">50</text>
<text x="505.8" y="582.7" font-size="33.4" fill="#6c6370" text-anchor="middle">0.2</text>
<text x="505.8" y="496.5" font-size="33.4" fill="#6c6370" text-anchor="middle">0.6</text>
<text x="508.6" y="410.3" font-size="33.4" fill="#6c6370" text-anchor="middle">1</text>
<text x="97.4" y="1122.6" font-size="29.89" fill="#6c6370" text-anchor="middle">0</text>
<text x="173" y="1122.6" font-size="29.89" fill="#6c6370" text-anchor="middle">1</text>
<text x="248.6" y="1122.6" font-size="29.89" fill="#6c6370" text-anchor="middle">2</text>
<text x="324.2" y="1122.6" font-size="29.89" fill="#6c6370" text-anchor="middle">3</text>
<text x="68.2" y="1033.67" font-size="29.89" fill="#6c6370" text-anchor="middle">0.1</text>
<text x="68.2" y="972.17" font-size="29.89" fill="#6c6370" text-anchor="middle">0.2</text>
<text x="431" y="1122.8" font-size="29.89" fill="#6c6370" text-anchor="middle">0</text>
<text x="506.76" y="1122.8" font-size="29.89" fill="#6c6370" text-anchor="middle">2</text>
<text x="582.52" y="1122.8" font-size="29.89" fill="#6c6370" text-anchor="middle">4</text>
<text x="658.28" y="1122.8" font-size="29.89" fill="#6c6370" text-anchor="middle">6</text>
<text x="734.04" y="1122.8" font-size="29.89" fill="#6c6370" text-anchor="middle">8</text>
<text x="814.6" y="1122.8" font-size="29.89" fill="#6c6370" text-anchor="middle">10</text>
<text x="406" y="1045.61" font-size="29.89" fill="#6c6370" text-anchor="middle">0.2</text>
<text x="406" y="995.85" font-size="29.89" fill="#6c6370" text-anchor="middle">0.4</text>
<text x="406" y="946.09" font-size="29.89" fill="#6c6370" text-anchor="middle">0.6</text>
<text x="92.9" y="1380.4" font-size="29.89" fill="#6c6370" text-anchor="middle">0</text>
<text x="227.5" y="1380.4" font-size="29.89" fill="#6c6370" text-anchor="middle">2</text>
<text x="362.1" y="1380.4" font-size="29.89" fill="#6c6370" text-anchor="middle">4</text>
<text x="496.7" y="1380.4" font-size="29.89" fill="#6c6370" text-anchor="middle">6</text>
<text x="631.3" y="1380.4" font-size="29.89" fill="#6c6370" text-anchor="middle">8</text>
<text x="770.7" y="1380.4" font-size="29.89" fill="#6c6370" text-anchor="middle">10</text>
<text x="68" y="1314.23" font-size="29.89" fill="#6c6370" text-anchor="middle">0.2</text>
<text x="68" y="1236.75" font-size="29.89" fill="#6c6370" text-anchor="middle">0.6</text>
<text x="70.1" y="1159.27" font-size="29.89" fill="#6c6370" text-anchor="middle">1</text>
<text x="1039.5" y="1050.17" font-size="29.89" fill="#6c6370" text-anchor="middle">0.1</text>
<text x="1039.5" y="972.77" font-size="29.89" fill="#6c6370" text-anchor="middle">0.2</text>
<text x="1069" y="1380.4" font-size="29.89" fill="#6c6370" text-anchor="middle">0</text>
<text x="1310.85" y="1380.4" font-size="29.89" fill="#6c6370" text-anchor="middle">1</text>
<text x="1552.7" y="1380.4" font-size="29.89" fill="#6c6370" text-anchor="middle">2</text>
<text x="1794.55" y="1380.4" font-size="29.89" fill="#6c6370" text-anchor="middle">3</text>
<text x="1039.5" y="1266.97" font-size="29.89" fill="#6c6370" text-anchor="middle">0.4</text>
<text x="1039.5" y="1180.97" font-size="29.89" fill="#6c6370" text-anchor="middle">0.8</text>
<text x="833.7" y="701.9" font-size="40.5" fill="#6c6370" textLength="223.3" lengthAdjust="spacingAndGlyphs">Wave number</text>
<text x="1072.3" y="701.9" font-size="40" fill="#6c6370" font-style="italic" textLength="19" lengthAdjust="spacingAndGlyphs">k</text>
<text x="1089.8" y="707.9" font-size="27.5" fill="#6c6370" font-style="italic" textLength="14.5" lengthAdjust="spacingAndGlyphs">x</text>
<text x="360.56" y="1421.8" font-size="36.49" fill="#6c6370" textLength="201.19" lengthAdjust="spacingAndGlyphs">Wave number</text>
<text x="575.54" y="1421.8" font-size="36.04" fill="#6c6370" font-style="italic" textLength="17.12" lengthAdjust="spacingAndGlyphs">k</text>
<text x="591.3" y="1427.21" font-size="24.78" fill="#6c6370" font-style="italic" textLength="13.06" lengthAdjust="spacingAndGlyphs">x</text>
<text x="1331.76" y="1421.8" font-size="36.49" fill="#6c6370" textLength="201.19" lengthAdjust="spacingAndGlyphs">Wave number</text>
<text x="1546.74" y="1421.8" font-size="36.04" fill="#6c6370" font-style="italic" textLength="17.12" lengthAdjust="spacingAndGlyphs">k</text>
<text x="1562.5" y="1427.21" font-size="24.78" fill="#6c6370" font-style="italic" textLength="13.06" lengthAdjust="spacingAndGlyphs">x</text>
<text x="465.2" y="358.1" font-size="40.5" fill="#6c6370" text-anchor="middle" textLength="175.4" lengthAdjust="spacingAndGlyphs" transform="rotate(-90 465.2 358.1)">Magnitude</text>
<text x="32.3" y="1113" font-size="35.37" fill="#6c6370" text-anchor="middle" textLength="157.86" lengthAdjust="spacingAndGlyphs" transform="rotate(-90 32.3 1113)">Magnitude</text>
<text x="1003" y="1132.3" font-size="35.37" fill="#6c6370" text-anchor="middle" textLength="157.86" lengthAdjust="spacingAndGlyphs" transform="rotate(-90 1003 1132.3)">Magnitude</text>
<text x="740.6" y="755.1" font-size="37.6" fill="#000" textLength="451" lengthAdjust="spacingAndGlyphs" xml:space="preserve">(a) Incoming bending wave <tspan font-style="italic">B</tspan></text>
<text x="281" y="1483.4" font-size="37.6" fill="#000" textLength="408.6" lengthAdjust="spacingAndGlyphs" xml:space="preserve">(b) Incoming shear wave <tspan font-style="italic">S</tspan></text>
<text x="1201.2" y="1483.4" font-size="37.6" fill="#000" textLength="514.2" lengthAdjust="spacingAndGlyphs" xml:space="preserve">(c) Incoming longitudinal wave <tspan font-style="italic">L</tspan></text>
<path d="M605.2 45H638.7" stroke="#a02cc4" stroke-width="5.4" stroke-dasharray="15.2 14.9" fill="none"/>
<circle cx="621.95" cy="110" r="8.85" stroke="#a02cc4" stroke-width="5.3" fill="none"/>
<text x="643" y="55.2" font-size="44.6" fill="#000000" font-style="italic" textLength="13.3" lengthAdjust="spacingAndGlyphs">t</text>
<text x="658.4" y="40.5" font-size="28.3" fill="#000000" textLength="27" lengthAdjust="spacingAndGlyphs">11</text>
<text x="659" y="66.3" font-size="29.7" fill="#000000" font-style="italic" textLength="41" lengthAdjust="spacingAndGlyphs">BL</text>
<text x="643" y="120.6" font-size="44.6" fill="#000000" font-style="italic" textLength="13.3" lengthAdjust="spacingAndGlyphs">t</text>
<text transform="translate(648.9 116.8) scale(1 1.35)" x="0" y="0" font-size="32" fill="#000000">ˆ</text>
<text x="658.4" y="105.9" font-size="28.3" fill="#000000" textLength="27" lengthAdjust="spacingAndGlyphs">11</text>
<text x="659" y="131.7" font-size="29.7" fill="#000000" font-style="italic" textLength="41" lengthAdjust="spacingAndGlyphs">BL</text>
<path d="M717 45H750.5" stroke="#a02cc4" stroke-width="5.4" fill="none"/>
<rect x="726.1" y="102.35" width="15.3" height="15.3" stroke="#a02cc4" stroke-width="4.9" fill="none"/>
<text x="754.8" y="55.2" font-size="44.6" fill="#000000" font-style="italic" textLength="13.3" lengthAdjust="spacingAndGlyphs">t</text>
<text x="770.2" y="40.5" font-size="28.3" fill="#000000" textLength="27" lengthAdjust="spacingAndGlyphs">12</text>
<text x="770.8" y="66.3" font-size="29.7" fill="#000000" font-style="italic" textLength="41" lengthAdjust="spacingAndGlyphs">BL</text>
<text x="754.8" y="120.6" font-size="44.6" fill="#000000" font-style="italic" textLength="13.3" lengthAdjust="spacingAndGlyphs">t</text>
<text transform="translate(760.7 116.8) scale(1 1.35)" x="0" y="0" font-size="32" fill="#000000">ˆ</text>
<text x="770.2" y="105.9" font-size="28.3" fill="#000000" textLength="27" lengthAdjust="spacingAndGlyphs">12</text>
<text x="770.8" y="131.7" font-size="29.7" fill="#000000" font-style="italic" textLength="41" lengthAdjust="spacingAndGlyphs">BL</text>
<path d="M828.4 45H861.9" stroke="#000000" stroke-width="5.4" stroke-dasharray="15.2 14.9" fill="none"/>
<circle cx="845.15" cy="110" r="8.85" stroke="#000000" stroke-width="5.3" fill="none"/>
<text x="866.2" y="55.2" font-size="44.6" fill="#000000" font-style="italic" textLength="13.3" lengthAdjust="spacingAndGlyphs">t</text>
<text x="881.6" y="40.5" font-size="28.3" fill="#000000" textLength="27" lengthAdjust="spacingAndGlyphs">11</text>
<text x="882.2" y="66.3" font-size="29.7" fill="#000000" font-style="italic" textLength="40" lengthAdjust="spacingAndGlyphs">BS</text>
<text x="866.2" y="120.6" font-size="44.6" fill="#000000" font-style="italic" textLength="13.3" lengthAdjust="spacingAndGlyphs">t</text>
<text transform="translate(872.1 116.8) scale(1 1.35)" x="0" y="0" font-size="32" fill="#000000">ˆ</text>
<text x="881.6" y="105.9" font-size="28.3" fill="#000000" textLength="27" lengthAdjust="spacingAndGlyphs">11</text>
<text x="882.2" y="131.7" font-size="29.7" fill="#000000" font-style="italic" textLength="40" lengthAdjust="spacingAndGlyphs">BS</text>
<path d="M939.7 45H973.2" stroke="#000000" stroke-width="5.4" fill="none"/>
<rect x="948.8" y="102.35" width="15.3" height="15.3" stroke="#000000" stroke-width="4.9" fill="none"/>
<text x="977.5" y="55.2" font-size="44.6" fill="#000000" font-style="italic" textLength="13.3" lengthAdjust="spacingAndGlyphs">t</text>
<text x="992.9" y="40.5" font-size="28.3" fill="#000000" textLength="27" lengthAdjust="spacingAndGlyphs">12</text>
<text x="993.5" y="66.3" font-size="29.7" fill="#000000" font-style="italic" textLength="40" lengthAdjust="spacingAndGlyphs">BS</text>
<text x="977.5" y="120.6" font-size="44.6" fill="#000000" font-style="italic" textLength="13.3" lengthAdjust="spacingAndGlyphs">t</text>
<text transform="translate(983.4 116.8) scale(1 1.35)" x="0" y="0" font-size="32" fill="#000000">ˆ</text>
<text x="992.9" y="105.9" font-size="28.3" fill="#000000" textLength="27" lengthAdjust="spacingAndGlyphs">12</text>
<text x="993.5" y="131.7" font-size="29.7" fill="#000000" font-style="italic" textLength="40" lengthAdjust="spacingAndGlyphs">BS</text>
<path d="M1051.3 45H1084.8" stroke="#ff0000" stroke-width="5.4" stroke-dasharray="15.2 14.9" fill="none"/>
<circle cx="1068.05" cy="110" r="8.85" stroke="#ff0000" stroke-width="5.3" fill="none"/>
<text x="1089.1" y="55.2" font-size="44.6" fill="#000000" font-style="italic" textLength="13.3" lengthAdjust="spacingAndGlyphs">t</text>
<text x="1104.5" y="40.5" font-size="28.3" fill="#000000" textLength="27" lengthAdjust="spacingAndGlyphs">11</text>
<text x="1105.1" y="66.3" font-size="29.7" fill="#000000" font-style="italic" textLength="42.5" lengthAdjust="spacingAndGlyphs">BB</text>
<text x="1089.1" y="120.6" font-size="44.6" fill="#000000" font-style="italic" textLength="13.3" lengthAdjust="spacingAndGlyphs">t</text>
<text transform="translate(1095 116.8) scale(1 1.35)" x="0" y="0" font-size="32" fill="#000000">ˆ</text>
<text x="1104.5" y="105.9" font-size="28.3" fill="#000000" textLength="27" lengthAdjust="spacingAndGlyphs">11</text>
<text x="1105.1" y="131.7" font-size="29.7" fill="#000000" font-style="italic" textLength="42.5" lengthAdjust="spacingAndGlyphs">BB</text>
<path d="M1164.6 45H1198.1" stroke="#ff0000" stroke-width="5.4" fill="none"/>
<rect x="1173.7" y="102.35" width="15.3" height="15.3" stroke="#ff0000" stroke-width="4.9" fill="none"/>
<text x="1202.4" y="55.2" font-size="44.6" fill="#000000" font-style="italic" textLength="13.3" lengthAdjust="spacingAndGlyphs">t</text>
<text x="1217.8" y="40.5" font-size="28.3" fill="#000000" textLength="27" lengthAdjust="spacingAndGlyphs">12</text>
<text x="1218.4" y="66.3" font-size="29.7" fill="#000000" font-style="italic" textLength="42.5" lengthAdjust="spacingAndGlyphs">BB</text>
<text x="1202.4" y="120.6" font-size="44.6" fill="#000000" font-style="italic" textLength="13.3" lengthAdjust="spacingAndGlyphs">t</text>
<text transform="translate(1208.3 116.8) scale(1 1.35)" x="0" y="0" font-size="32" fill="#000000">ˆ</text>
<text x="1217.8" y="105.9" font-size="28.3" fill="#000000" textLength="27" lengthAdjust="spacingAndGlyphs">12</text>
<text x="1218.4" y="131.7" font-size="29.7" fill="#000000" font-style="italic" textLength="42.5" lengthAdjust="spacingAndGlyphs">BB</text>
<path d="M159 831.6H188.6" stroke="#a02cc4" stroke-width="4.83" stroke-dasharray="13.6 13.34" fill="none"/>
<circle cx="173.8" cy="889.9" r="7.75" stroke="#a02cc4" stroke-width="4.9" fill="none"/>
<text x="192.89" y="841.45" font-size="39.92" fill="#000000" font-style="italic" textLength="11.9" lengthAdjust="spacingAndGlyphs">t</text>
<text x="206.67" y="828.29" font-size="25.33" fill="#000000" textLength="24.16" lengthAdjust="spacingAndGlyphs">11</text>
<text x="207.21" y="851.38" font-size="26.58" fill="#000000" font-style="italic" textLength="34.64" lengthAdjust="spacingAndGlyphs">SL</text>
<text x="192.89" y="899.75" font-size="39.92" fill="#000000" font-style="italic" textLength="11.9" lengthAdjust="spacingAndGlyphs">t</text>
<text transform="translate(198.17 896.35) scale(1 1.35)" x="0" y="0" font-size="28.64" fill="#000000">ˆ</text>
<text x="206.67" y="886.59" font-size="25.33" fill="#000000" textLength="24.16" lengthAdjust="spacingAndGlyphs">11</text>
<text x="207.21" y="909.68" font-size="26.58" fill="#000000" font-style="italic" textLength="34.64" lengthAdjust="spacingAndGlyphs">SL</text>
<path d="M255.8 831.6H285.4" stroke="#a02cc4" stroke-width="4.83" fill="none"/>
<rect x="263.65" y="882.95" width="13.9" height="13.9" stroke="#a02cc4" stroke-width="4.7" fill="none"/>
<text x="289.69" y="841.45" font-size="39.92" fill="#000000" font-style="italic" textLength="11.9" lengthAdjust="spacingAndGlyphs">t</text>
<text x="303.47" y="828.29" font-size="25.33" fill="#000000" textLength="24.16" lengthAdjust="spacingAndGlyphs">12</text>
<text x="304.01" y="851.38" font-size="26.58" fill="#000000" font-style="italic" textLength="34.64" lengthAdjust="spacingAndGlyphs">SL</text>
<text x="289.69" y="899.75" font-size="39.92" fill="#000000" font-style="italic" textLength="11.9" lengthAdjust="spacingAndGlyphs">t</text>
<text transform="translate(294.97 896.35) scale(1 1.35)" x="0" y="0" font-size="28.64" fill="#000000">ˆ</text>
<text x="303.47" y="886.59" font-size="25.33" fill="#000000" textLength="24.16" lengthAdjust="spacingAndGlyphs">12</text>
<text x="304.01" y="909.68" font-size="26.58" fill="#000000" font-style="italic" textLength="34.64" lengthAdjust="spacingAndGlyphs">SL</text>
<path d="M353 831.6H382.6" stroke="#000000" stroke-width="4.83" stroke-dasharray="13.6 13.34" fill="none"/>
<circle cx="367.8" cy="889.9" r="7.75" stroke="#000000" stroke-width="4.9" fill="none"/>
<text x="386.89" y="841.45" font-size="39.92" fill="#000000" font-style="italic" textLength="11.9" lengthAdjust="spacingAndGlyphs">t</text>
<text x="400.67" y="828.29" font-size="25.33" fill="#000000" textLength="24.16" lengthAdjust="spacingAndGlyphs">11</text>
<text x="401.21" y="851.38" font-size="26.58" fill="#000000" font-style="italic" textLength="33.74" lengthAdjust="spacingAndGlyphs">SS</text>
<text x="386.89" y="899.75" font-size="39.92" fill="#000000" font-style="italic" textLength="11.9" lengthAdjust="spacingAndGlyphs">t</text>
<text transform="translate(392.17 896.35) scale(1 1.35)" x="0" y="0" font-size="28.64" fill="#000000">ˆ</text>
<text x="400.67" y="886.59" font-size="25.33" fill="#000000" textLength="24.16" lengthAdjust="spacingAndGlyphs">11</text>
<text x="401.21" y="909.68" font-size="26.58" fill="#000000" font-style="italic" textLength="33.74" lengthAdjust="spacingAndGlyphs">SS</text>
<path d="M448.7 831.6H478.3" stroke="#000000" stroke-width="4.83" fill="none"/>
<rect x="456.55" y="882.95" width="13.9" height="13.9" stroke="#000000" stroke-width="4.7" fill="none"/>
<text x="482.59" y="841.45" font-size="39.92" fill="#000000" font-style="italic" textLength="11.9" lengthAdjust="spacingAndGlyphs">t</text>
<text x="496.37" y="828.29" font-size="25.33" fill="#000000" textLength="24.16" lengthAdjust="spacingAndGlyphs">12</text>
<text x="496.91" y="851.38" font-size="26.58" fill="#000000" font-style="italic" textLength="33.74" lengthAdjust="spacingAndGlyphs">SS</text>
<text x="482.59" y="899.75" font-size="39.92" fill="#000000" font-style="italic" textLength="11.9" lengthAdjust="spacingAndGlyphs">t</text>
<text transform="translate(487.87 896.35) scale(1 1.35)" x="0" y="0" font-size="28.64" fill="#000000">ˆ</text>
<text x="496.37" y="886.59" font-size="25.33" fill="#000000" textLength="24.16" lengthAdjust="spacingAndGlyphs">12</text>
<text x="496.91" y="909.68" font-size="26.58" fill="#000000" font-style="italic" textLength="33.74" lengthAdjust="spacingAndGlyphs">SS</text>
<path d="M545.5 831.6H575.1" stroke="#ff0000" stroke-width="4.83" stroke-dasharray="13.6 13.34" fill="none"/>
<circle cx="560.3" cy="889.9" r="7.75" stroke="#ff0000" stroke-width="4.9" fill="none"/>
<text x="579.39" y="841.45" font-size="39.92" fill="#000000" font-style="italic" textLength="11.9" lengthAdjust="spacingAndGlyphs">t</text>
<text x="593.17" y="828.29" font-size="25.33" fill="#000000" textLength="24.16" lengthAdjust="spacingAndGlyphs">11</text>
<text x="593.71" y="851.38" font-size="26.58" fill="#000000" font-style="italic" textLength="36.43" lengthAdjust="spacingAndGlyphs">SB</text>
<text x="579.39" y="899.75" font-size="39.92" fill="#000000" font-style="italic" textLength="11.9" lengthAdjust="spacingAndGlyphs">t</text>
<text transform="translate(584.67 896.35) scale(1 1.35)" x="0" y="0" font-size="28.64" fill="#000000">ˆ</text>
<text x="593.17" y="886.59" font-size="25.33" fill="#000000" textLength="24.16" lengthAdjust="spacingAndGlyphs">11</text>
<text x="593.71" y="909.68" font-size="26.58" fill="#000000" font-style="italic" textLength="36.43" lengthAdjust="spacingAndGlyphs">SB</text>
<path d="M645.6 831.6H675.2" stroke="#ff0000" stroke-width="4.83" fill="none"/>
<rect x="653.45" y="882.95" width="13.9" height="13.9" stroke="#ff0000" stroke-width="4.7" fill="none"/>
<text x="679.49" y="841.45" font-size="39.92" fill="#000000" font-style="italic" textLength="11.9" lengthAdjust="spacingAndGlyphs">t</text>
<text x="693.27" y="828.29" font-size="25.33" fill="#000000" textLength="24.16" lengthAdjust="spacingAndGlyphs">12</text>
<text x="693.81" y="851.38" font-size="26.58" fill="#000000" font-style="italic" textLength="36.43" lengthAdjust="spacingAndGlyphs">SB</text>
<text x="679.49" y="899.75" font-size="39.92" fill="#000000" font-style="italic" textLength="11.9" lengthAdjust="spacingAndGlyphs">t</text>
<text transform="translate(684.77 896.35) scale(1 1.35)" x="0" y="0" font-size="28.64" fill="#000000">ˆ</text>
<text x="693.27" y="886.59" font-size="25.33" fill="#000000" textLength="24.16" lengthAdjust="spacingAndGlyphs">12</text>
<text x="693.81" y="909.68" font-size="26.58" fill="#000000" font-style="italic" textLength="36.43" lengthAdjust="spacingAndGlyphs">SB</text>
<path d="M1149 831.6H1176.5" stroke="#a02cc4" stroke-width="4.83" stroke-dasharray="13.6 13.34" fill="none"/>
<circle cx="1162.75" cy="909" r="7.75" stroke="#a02cc4" stroke-width="4.9" fill="none"/>
<text x="1180.44" y="840.3" font-size="36.13" fill="#000000" font-style="italic" textLength="10.77" lengthAdjust="spacingAndGlyphs">t</text>
<text x="1192.92" y="828.39" font-size="22.92" fill="#000000" textLength="21.87" lengthAdjust="spacingAndGlyphs">11</text>
<text x="1193.4" y="849.29" font-size="24.06" fill="#000000" font-style="italic" textLength="32.8" lengthAdjust="spacingAndGlyphs">LL</text>
<text x="1180.44" y="918.1" font-size="36.13" fill="#000000" font-style="italic" textLength="10.77" lengthAdjust="spacingAndGlyphs">t</text>
<text transform="translate(1185.22 915.02) scale(1 1.35)" x="0" y="0" font-size="25.92" fill="#000000">ˆ</text>
<text x="1192.92" y="906.19" font-size="22.92" fill="#000000" textLength="21.87" lengthAdjust="spacingAndGlyphs">11</text>
<text x="1193.4" y="927.09" font-size="24.06" fill="#000000" font-style="italic" textLength="32.8" lengthAdjust="spacingAndGlyphs">LL</text>
<path d="M1240.9 831.6H1268.4" stroke="#a02cc4" stroke-width="4.83" fill="none"/>
<rect x="1247.7" y="902.05" width="13.9" height="13.9" stroke="#a02cc4" stroke-width="4.7" fill="none"/>
<text x="1272.34" y="840.3" font-size="36.13" fill="#000000" font-style="italic" textLength="10.77" lengthAdjust="spacingAndGlyphs">t</text>
<text x="1284.82" y="828.39" font-size="22.92" fill="#000000" textLength="21.87" lengthAdjust="spacingAndGlyphs">12</text>
<text x="1285.3" y="849.29" font-size="24.06" fill="#000000" font-style="italic" textLength="32.8" lengthAdjust="spacingAndGlyphs">LL</text>
<text x="1272.34" y="918.1" font-size="36.13" fill="#000000" font-style="italic" textLength="10.77" lengthAdjust="spacingAndGlyphs">t</text>
<text transform="translate(1277.12 915.02) scale(1 1.35)" x="0" y="0" font-size="25.92" fill="#000000">ˆ</text>
<text x="1284.82" y="906.19" font-size="22.92" fill="#000000" textLength="21.87" lengthAdjust="spacingAndGlyphs">12</text>
<text x="1285.3" y="927.09" font-size="24.06" fill="#000000" font-style="italic" textLength="32.8" lengthAdjust="spacingAndGlyphs">LL</text>
<path d="M1331.8 831.6H1359.3" stroke="#000000" stroke-width="4.83" stroke-dasharray="13.6 13.34" fill="none"/>
<circle cx="1345.55" cy="909" r="7.75" stroke="#000000" stroke-width="4.9" fill="none"/>
<text x="1363.24" y="840.3" font-size="36.13" fill="#000000" font-style="italic" textLength="10.77" lengthAdjust="spacingAndGlyphs">t</text>
<text x="1375.72" y="828.39" font-size="22.92" fill="#000000" textLength="21.87" lengthAdjust="spacingAndGlyphs">11</text>
<text x="1376.2" y="849.29" font-size="24.06" fill="#000000" font-style="italic" textLength="32" lengthAdjust="spacingAndGlyphs">LS</text>
<text x="1363.24" y="918.1" font-size="36.13" fill="#000000" font-style="italic" textLength="10.77" lengthAdjust="spacingAndGlyphs">t</text>
<text transform="translate(1368.02 915.02) scale(1 1.35)" x="0" y="0" font-size="25.92" fill="#000000">ˆ</text>
<text x="1375.72" y="906.19" font-size="22.92" fill="#000000" textLength="21.87" lengthAdjust="spacingAndGlyphs">11</text>
<text x="1376.2" y="927.09" font-size="24.06" fill="#000000" font-style="italic" textLength="32" lengthAdjust="spacingAndGlyphs">LS</text>
<path d="M1423.3 831.6H1450.8" stroke="#000000" stroke-width="4.83" fill="none"/>
<rect x="1430.1" y="902.05" width="13.9" height="13.9" stroke="#000000" stroke-width="4.7" fill="none"/>
<text x="1454.74" y="840.3" font-size="36.13" fill="#000000" font-style="italic" textLength="10.77" lengthAdjust="spacingAndGlyphs">t</text>
<text x="1467.22" y="828.39" font-size="22.92" fill="#000000" textLength="21.87" lengthAdjust="spacingAndGlyphs">12</text>
<text x="1467.7" y="849.29" font-size="24.06" fill="#000000" font-style="italic" textLength="32" lengthAdjust="spacingAndGlyphs">LS</text>
<text x="1454.74" y="918.1" font-size="36.13" fill="#000000" font-style="italic" textLength="10.77" lengthAdjust="spacingAndGlyphs">t</text>
<text transform="translate(1459.52 915.02) scale(1 1.35)" x="0" y="0" font-size="25.92" fill="#000000">ˆ</text>
<text x="1467.22" y="906.19" font-size="22.92" fill="#000000" textLength="21.87" lengthAdjust="spacingAndGlyphs">12</text>
<text x="1467.7" y="927.09" font-size="24.06" fill="#000000" font-style="italic" textLength="32" lengthAdjust="spacingAndGlyphs">LS</text>
<path d="M1514.3 831.6H1541.8" stroke="#ff0000" stroke-width="4.83" stroke-dasharray="13.6 13.34" fill="none"/>
<circle cx="1528.05" cy="909" r="7.75" stroke="#ff0000" stroke-width="4.9" fill="none"/>
<text x="1545.74" y="840.3" font-size="36.13" fill="#000000" font-style="italic" textLength="10.77" lengthAdjust="spacingAndGlyphs">t</text>
<text x="1558.22" y="828.39" font-size="22.92" fill="#000000" textLength="21.87" lengthAdjust="spacingAndGlyphs">11</text>
<text x="1558.7" y="849.29" font-size="24.06" fill="#000000" font-style="italic" textLength="34.43" lengthAdjust="spacingAndGlyphs">LB</text>
<text x="1545.74" y="918.1" font-size="36.13" fill="#000000" font-style="italic" textLength="10.77" lengthAdjust="spacingAndGlyphs">t</text>
<text transform="translate(1550.52 915.02) scale(1 1.35)" x="0" y="0" font-size="25.92" fill="#000000">ˆ</text>
<text x="1558.22" y="906.19" font-size="22.92" fill="#000000" textLength="21.87" lengthAdjust="spacingAndGlyphs">11</text>
<text x="1558.7" y="927.09" font-size="24.06" fill="#000000" font-style="italic" textLength="34.43" lengthAdjust="spacingAndGlyphs">LB</text>
<path d="M1607.8 831.6H1635.3" stroke="#ff0000" stroke-width="4.83" fill="none"/>
<rect x="1614.6" y="902.05" width="13.9" height="13.9" stroke="#ff0000" stroke-width="4.7" fill="none"/>
<text x="1639.24" y="840.3" font-size="36.13" fill="#000000" font-style="italic" textLength="10.77" lengthAdjust="spacingAndGlyphs">t</text>
<text x="1651.72" y="828.39" font-size="22.92" fill="#000000" textLength="21.87" lengthAdjust="spacingAndGlyphs">12</text>
<text x="1652.2" y="849.29" font-size="24.06" fill="#000000" font-style="italic" textLength="34.43" lengthAdjust="spacingAndGlyphs">LB</text>
<text x="1639.24" y="918.1" font-size="36.13" fill="#000000" font-style="italic" textLength="10.77" lengthAdjust="spacingAndGlyphs">t</text>
<text transform="translate(1644.02 915.02) scale(1 1.35)" x="0" y="0" font-size="25.92" fill="#000000">ˆ</text>
<text x="1651.72" y="906.19" font-size="22.92" fill="#000000" textLength="21.87" lengthAdjust="spacingAndGlyphs">12</text>
<text x="1652.2" y="927.09" font-size="24.06" fill="#000000" font-style="italic" textLength="34.43" lengthAdjust="spacingAndGlyphs">LB</text>
</svg>
</body>
</html>
